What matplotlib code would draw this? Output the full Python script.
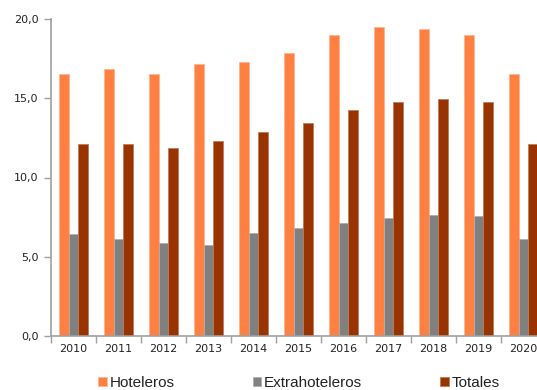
import numpy as np
import matplotlib
matplotlib.use('Agg')
import matplotlib.pyplot as plt
from matplotlib.ticker import FuncFormatter, FixedLocator

years = ['2010', '2011', '2012', '2013', '2014', '2015', '2016', '2017', '2018', '2019', '2020']
hoteleros = [16.5, 16.85, 16.55, 17.15, 17.27, 17.87, 18.97, 19.5, 19.4, 19.0, 16.53]
extrahoteleros = [6.42, 6.1, 5.85, 5.75, 6.52, 6.79, 7.15, 7.44, 7.65, 7.55, 6.12]
totales = [12.13, 12.09, 11.84, 12.28, 12.85, 13.44, 14.26, 14.78, 14.97, 14.78, 12.11]

W, H = 537, 390
fig = plt.figure(figsize=(W / 100, H / 100), dpi=100)
# eje derecho se sale de la figura, como en el original
ax = fig.add_axes([51 / W, (H - 336) / H, 495 / W, 317 / H])

x = np.arange(len(years))
w = 0.222
series = [
    (hoteleros, '#FF8040', '#FFB48F', 'Hoteleros'),
    (extrahoteleros, '#808080', '#B0B0B0', 'Extrahoteleros'),
    (totales, '#993300', '#C07A5A', 'Totales'),
]
handles = []
for k, (vals, col, edge, name) in enumerate(series):
    b = ax.bar(x + (k - 1) * w, vals, w, color=col, edgecolor=edge, linewidth=0.6, label=name)
    handles.append(b)

ax.set_xlim(-0.5, len(years) - 0.5)
ax.set_ylim(0, 20)
ax.set_yticks([0, 5, 10, 15, 20])
ax.yaxis.set_major_formatter(FuncFormatter(lambda v, p: f'{v:.1f}'.replace('.', ',')))

ax.set_xticks(x)
ax.set_xticklabels(years)
ax.xaxis.set_minor_locator(FixedLocator(np.arange(-0.5, len(years), 1.0)))
ax.tick_params(axis='x', which='major', length=0, pad=6, labelsize=8, colors='#222222')
ax.tick_params(axis='x', which='minor', length=5, width=1, color='#A0A0A0')
ax.tick_params(axis='y', length=5, width=1, color='#A0A0A0', labelsize=8, labelcolor='#222222', pad=4)

for s in ['top', 'right']:
    ax.spines[s].set_visible(False)
for s in ['left', 'bottom']:
    ax.spines[s].set_color('#A0A0A0')
    ax.spines[s].set_linewidth(1.2)

leg = fig.legend(handles=handles, loc='center', bbox_to_anchor=(299 / W, (H - 383) / H), ncol=3,
                 frameon=False, prop={'family': 'Liberation Sans', 'size': 11},
                 handlelength=0.55, handleheight=0.55, handletextpad=0.2,
                 columnspacing=5.1, borderpad=0, borderaxespad=0)
for t in leg.get_texts():
    t.set_color('#222222')

fig.savefig('out.png', dpi=100)
